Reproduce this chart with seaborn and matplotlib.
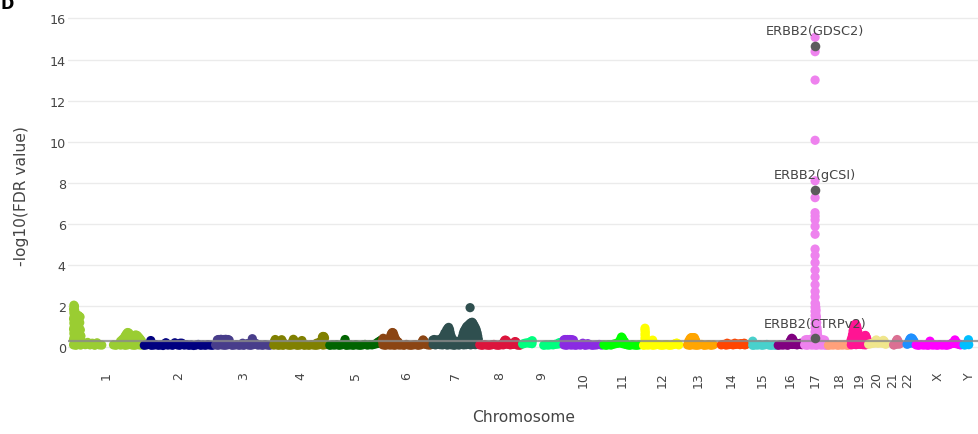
import numpy as np
import pandas as pd
import matplotlib
matplotlib.use("Agg")
import matplotlib.pyplot as plt
import seaborn as sns

# ---------------------------------------------------------------- data
CHROMS = ["1", "2", "3", "4", "5", "6", "7", "8", "9", "10", "11", "12",
          "13", "14", "15", "16", "17", "18", "19", "20", "21", "22", "X", "Y"]
CHROM_LEN_MB = [249, 243, 198, 191, 181, 171, 159, 146, 141, 136, 135, 134,
                115, 107, 103, 90, 81, 78, 59, 63, 48, 51, 155, 59]
CHROM_COLORS = ["#9ACD32", "#000080", "#483D8B", "#808000", "#006400", "#8B4513",
                "#2F4F4F", "#DC143C", "#00FF7F", "#8A2BE2", "#00FF00", "#FFFF00",
                "#FFA500", "#FF4500", "#48D1CC", "#800080", "#EE82EE", "#FFA07A",
                "#FF1493", "#F0E68C", "#DB7093", "#1E90FF", "#FF00FF", "#00BFFF"]

# background scores: one gene-level score per 8 Mb bin (None = no genes)
BIN_MB = 8
chr1_base = [None, .12, .10, .14, .11, .22, .13, .24, .12, .20, .10, .22, .12, .11, None, None,
             None, None, .12, .10, .14, .11, .13, .10, .12, .14, .11, .10, .13, .12, .11]
chr2_base = [.10, .12, .14, .10, .11, .13, .10, .12, .09, .20, .11, .13, .10, .22, .12,
             .10, .20, .11, .13, .10, .12, .09, .11, .14, .10, .12, .10, .13, .11, .10]
chr3_base = [.12, .10, .13, .11, .10, .12, .14, .10, .11, .13, .10, .12,
             .10, .14, .11, .10, .13, .20, .11, .12, .10, .13, .11, .10]
chr4_base = [.11, .13, .10, .12, .10, .14, .11, .10, .12, .13, .10, .11,
             .14, .10, .12, .10, .13, .11, .10, .12, .14, .11, .13]
chr5_base = [.10, .12, .11, .13, .10, .12, .14, .10, .11, .12, .10,
             .13, .11, .10, .12, .14, .11, .13, .12, .15, .18, .20]
chr6_base = [.12, .10, .13, .11, .12, .10, .13, .11, .12, .10, .14,
             .11, .10, .12, .13, .10, .12, .18, .15, .12, .11]
chr7_base = [.14, .12, .15, .13, .12, .14, .11, .13, .12, .10,
             .13, .11, .14, .12, .13, .15, .12, .14, .13]
chr8_base = [.12, .10, .13, .11, .10, .12, .14, .11, .10,
             .13, .12, .16, .15, .12, .14, .16, .11, .10]
chr9_base = [.16, .20, .22, .20, .18, None, None, None, None,
             .10, .12, .11, .13, .12, .15, .16, .18]
chr10_base = [.12, .10, .13, .11, .12, .10, .13, .11, .20,
              .10, .12, .13, .10, .11, .12, .14, .11]
chr11_base = [.12, .10, .13, .11, .15, .18, .20, .22, .18, .15, .12, .10, .13, .11, .10, .12]
chr12_base = [.10, .12, .11, .13, .10, .12, .14, .11, .10, .12, .13, .10, .11, .14, .20, .12]
chr13_base = [None, None, .12, .10, .13, .11, .10, .12, .14, .10, .11, .13, .10, .12]
chr14_base = [None, None, .12, .14, .11, .13, .15, .12, .14, .16, .13, .15, .12]
chr15_base = [None, None, .10, .12, .11, .13, .10, .12, .14, .11, .10, .12]
chr16_base = [.10, .12, .11, .13, .10, .15, .14, .14, .12, .15, .13]
chr17_base = [.12, .10, .13, .11, .12, .10, .13, .11, .12, .10]
chr18_base = [.10, .12, .11, .13, .10, .12, .11, .13, .10]
chr19_base = [.12, .14, .13, .15, .14, .13, .12]
chr20_base = [.15, .18, .20, .22, .20, .22, .20]
chr21_base = [None, None, None, .12, .15, .18]
chr22_base = [None, None, None, .18, .22, .20]
chrX_base = [.12, .10, .13, .11, .12, .10, .13, .11, .12, .10,
             .13, .11, .12, .10, .13, .18, .20, .18, .15]
chrY_base = [None, .12, .14, .13, None, None, None]

# genes with elevated scores: (position in Mb, -log10 FDR)
chr1_peaks = [(13, 2.05), (15, 2.0), (14, 1.92), (12, 1.85), (16, 1.78), (13, 1.68), (15, 1.58),
              (14, 1.48), (12, 1.38), (16, 1.28), (13, 1.18), (15, 1.08), (14, 0.98), (12, 0.88),
              (16, 0.78), (13, 0.68), (15, 0.58), (14, 0.48), (12, 0.38), (16, 0.28), (14, 0.18),
              (19, 1.62), (21, 1.45), (20, 1.15), (22, 0.85), (19, 0.55), (21, 0.3),
              (25, 1.52), (28, 1.55), (31, 1.5), (34, 1.48), (26, 1.3), (30, 1.25), (33, 1.2),
              (27, 1.05), (31, 0.95), (35, 0.85), (29, 0.75), (33, 0.65), (37, 0.55), (27, 0.5),
              (31, 0.4), (35, 0.35), (39, 0.3), (29, 0.25),
              (172, .30), (178, .38), (184, .46), (188, .56), (192, .65), (196, .72), (200, .70),
              (204, .62), (208, .54), (212, .52), (216, .55), (220, .58), (224, .60), (228, .58),
              (232, .52), (236, .45), (240, .38), (244, .30), (190, .35), (200, .42), (206, .32),
              (216, .34), (224, .38), (232, .30), (184, .24), (212, .28), (240, .20)]
chr2_peaks = [(26, .33), (24, .20), (78, .22), (126, .20)]
chr3_peaks = [(10, .36), (14, .38), (18, .37), (22, .39), (26, .36), (30, .38), (34, .37),
              (38, .39), (42, .36), (46, .38), (50, .35), (12, .24), (20, .26), (28, .22),
              (36, .25), (44, .24), (129, .42), (126, .22), (96, .20), (112, .18)]
chr4_peaks = [(9, .38), (6, .28), (12, .30), (31, .37), (28, .26), (34, .28), (71, .39),
              (68, .28), (75, .30), (100, .33), (97, .24), (150, .20), (160, .25), (166, .32),
              (170, .50), (172, .53), (175, .52), (177, .45), (171, .38), (174, .30), (176, .22)]
chr5_peaks = [(56, .38), (53, .24), (59, .22), (168, .25), (174, .30), (178, .34), (180, .30)]
chr6_peaks = [(2, .32), (5, .44), (8, .40), (11, .30), (26, .40), (30, .55), (33, .66), (36, .72),
              (39, .70), (42, .58), (45, .45), (48, .38), (52, .30), (56, .26), (32, .38),
              (38, .45), (44, .30), (138, .28), (141, .36), (144, .30)]
chr7_peaks = [(3, .35), (8, .38), (13, .32), (18, .36), (23, .34), (28, .38), (34, .45), (39, .55),
              (44, .70), (50, .84), (54, .92), (57, .97), (60, .86), (62, .72), (65, .56), (68, .44),
              (71, .34), (40, .35), (46, .48), (52, .60), (56, .70), (60, .55), (64, .38), (50, .40),
              (56, .30), (76, .25), (82, .30), (88, .22), (93, .28), (98, .30), (101, .38),
              (104, .52), (107, .68), (110, .80), (114, .90), (118, 1.0), (122, 1.05), (126, 1.1),
              (130, 1.16), (134, 1.2), (137, 1.22), (140, 1.16), (144, 1.06), (148, .95),
              (151, .85), (154, .70), (156, .55), (158, .40), (108, .45), (114, .60), (120, .75),
              (126, .85), (132, .90), (138, .95), (144, .80), (150, .60), (112, .35), (120, .50),
              (128, .60), (136, .65), (144, .50), (152, .40), (124, .35), (134, .40), (130, 1.93)]
chr8_peaks = [(84, .22), (88, .30), (90, .35), (93, .34), (96, .28), (100, .22),
              (121, .22), (124, .28), (127, .26)]
chr9_peaks = [(30, .26), (34, .30), (37, .32), (128, .22), (134, .24)]
chr10_peaks = [(4, .36), (8, .38), (12, .37), (16, .38), (20, .36), (24, .38), (28, .37),
               (32, .36), (36, .35), (6, .22), (14, .25), (22, .20), (30, .22), (85, .18)]
chr11_peaks = [(54, .25), (58, .30), (61, .40), (64, .50), (67, .44), (70, .34), (74, .28),
               (62, .26), (66, .30)]
chr12_peaks = [(9, .93), (9, .83), (10, .73), (9, .63), (10, .53), (9, .43), (10, .33), (9, .23),
               (35, .35), (33, .24), (112, .18), (118, .20)]
chr13_peaks = [(24, .30), (28, .40), (31, .46), (34, .47), (37, .47), (40, .46), (43, .47),
               (46, .38), (49, .28), (33, .30), (38, .28), (43, .30)]
chr14_peaks = [(40, .20), (66, .20), (86, .18), (98, .20), (104, .14)]
chr15_peaks = [(20, .30), (24, .12), (98, .10)]
chr16_peaks = [(44, .28), (47, .36), (50, .44), (53, .40), (56, .30), (60, .22), (70, .18),
               (80, .20), (86, .14)]
chr17_peaks = [(6, .36), (12, .38), (18, .37), (24, .39), (30, .38), (36, .36), (42, .38),
               (48, .37), (54, .39), (60, .36), (66, .37), (72, .35), (9, .24), (21, .26),
               (33, .24), (45, .26), (57, .24), (69, .22),
               (41, 2.1), (42, 1.95), (43, 1.8), (42, 1.65), (44, 1.5), (43, 1.35), (45, 1.2),
               (44, 1.05), (46, .95), (45, .85), (47, .78), (46, .68), (48, .60), (47, .52),
               (49, .48), (41, 1.45), (41, .95), (42, .75), (43, .58), (50, .42),
               (39.5, 15.08), (39.5, 14.38), (39.5, 13.0), (39.5, 10.07), (39.5, 8.1),
               (39.5, 7.28), (39.4, 6.55), (39.6, 6.38), (39.5, 6.2), (39.5, 5.88), (39.5, 5.5),
               (39.5, 4.78), (39.5, 4.47), (39.5, 4.12), (39.5, 3.75), (39.5, 3.42),
               (39.5, 3.05), (39.5, 2.72), (39.5, 2.45), (39.5, 2.15), (39.5, 1.95),
               (39.4, 1.75), (39.6, 1.55), (39.5, 1.35), (39.5, 1.15), (39.5, .95),
               (39.5, .75), (39.5, .58)]
chr18_peaks = [(74, .12)]
chr19_peaks = [(3, .35), (6, .48), (8, .62), (10, .80), (12, .95), (14, 1.05), (16, 1.1),
               (18, 1.12), (20, 1.1), (22, 1.02), (24, .90), (26, .75), (28, .60), (30, .50),
               (14, .70), (18, .80), (22, .70), (12, .50), (16, .45), (20, .40), (24, .50),
               (26, .35), (33, .45), (36, .42), (39, .38), (42, .40), (45, .44), (48, .52),
               (50, .56), (52, .58), (54, .52), (56, .45), (58, .35), (34, .25), (44, .25),
               (50, .30), (55, .25)]
chr20_peaks = [(27, .30), (30, .36), (33, .30), (51, .28), (54, .34), (57, .30), (60, .20), (62, .15)]
chr21_peaks = [(26, .12), (35, .30), (38, .38), (41, .30), (46, .16)]
chr22_peaks = [(24, .15), (30, .28), (33, .38), (36, .44), (39, .45), (42, .42), (45, .35),
               (48, .28), (50, .20), (36, .28), (42, .26)]
chrX_peaks = [(48, .20), (51, .30), (54, .20), (128, .22), (133, .26), (136, .36), (139, .28),
              (152, .15), (155, .12)]
chrY_peaks = [(16, .12), (24, .22), (27, .37)]

BASES = [chr1_base, chr2_base, chr3_base, chr4_base, chr5_base, chr6_base, chr7_base,
         chr8_base, chr9_base, chr10_base, chr11_base, chr12_base, chr13_base, chr14_base,
         chr15_base, chr16_base, chr17_base, chr18_base, chr19_base, chr20_base,
         chr21_base, chr22_base, chrX_base, chrY_base]
PEAKS = [chr1_peaks, chr2_peaks, chr3_peaks, chr4_peaks, chr5_peaks, chr6_peaks, chr7_peaks,
         chr8_peaks, chr9_peaks, chr10_peaks, chr11_peaks, chr12_peaks, chr13_peaks,
         chr14_peaks, chr15_peaks, chr16_peaks, chr17_peaks, chr18_peaks, chr19_peaks,
         chr20_peaks, chr21_peaks, chr22_peaks, chrX_peaks, chrY_peaks]

# labelled hits: ERBB2 in each drug-response dataset
HIT_CHROM = "17"
HIT_POS_MB = 39.5
HIT_LABELS = ["ERBB2(GDSC2)", "ERBB2(gCSI)", "ERBB2(CTRPv2)"]
HIT_SCORES = [14.65, 7.67, 0.44]

FDR_CUTOFF = 0.5

# ---------------------------------------------------------------- table
offsets = np.concatenate([[0], np.cumsum(CHROM_LEN_MB)[:-1]])
rows = []
for name, off, base, peaks in zip(CHROMS, offsets, BASES, PEAKS):
    for i, v in enumerate(base):
        if v is not None:
            rows.append((name, off + BIN_MB * i + BIN_MB / 2, v))
    for p, v in peaks:
        rows.append((name, off + p, v))
df = pd.DataFrame(rows, columns=["chrom", "gpos", "score"])
mids = offsets + np.array(CHROM_LEN_MB) / 2

hit_off = offsets[CHROMS.index(HIT_CHROM)]
hits = pd.DataFrame({"gpos": [hit_off + HIT_POS_MB] * len(HIT_SCORES),
                     "score": HIT_SCORES, "label": HIT_LABELS})

# ---------------------------------------------------------------- plot
sns.set_theme(style="white")
plt.rcParams["font.family"] = ["DejaVu Sans"]
TEXT = "#444444"

fig = plt.figure(figsize=(9.79, 4.35), dpi=100)
ax = fig.add_axes([68 / 979, 66.1 / 435, 911 / 979, 359.8 / 435])

sns.scatterplot(data=df, x="gpos", y="score", hue="chrom", hue_order=CHROMS,
                palette=CHROM_COLORS, s=44, linewidth=0, legend=False, ax=ax, zorder=2)
ax.axhline(-np.log10(FDR_CUTOFF), color="#8a8a8a", lw=1.6, alpha=0.8, zorder=3)
sns.scatterplot(data=hits, x="gpos", y="score", color="#5c5c5c", s=48,
                linewidth=0, legend=False, ax=ax, zorder=4)
for _, r in hits.iterrows():
    ax.annotate(r["label"], (r["gpos"], r["score"]), xytext=(0, 11),
                textcoords="offset points", ha="center", va="center",
                fontsize=9.3, color=TEXT, zorder=5)

ax.set_xlim(-7, 3097)
ax.set_ylim(-1.0, 16.5)
ax.set_yticks(np.arange(0, 17, 2))
ax.set_xticks(mids)
ax.set_xticklabels(CHROMS, rotation=90)
ax.tick_params(axis="x", length=0, pad=2.5, labelsize=9, labelcolor=TEXT)
ax.tick_params(axis="y", length=0, pad=1.5, labelsize=9.2, labelcolor=TEXT)
ax.grid(axis="y", color="#ebebeb", lw=1)
ax.grid(axis="x", visible=False)
ax.set_axisbelow(True)
for s in ax.spines.values():
    s.set_visible(False)

ax.set_xlabel("Chromosome", fontsize=11.2, color=TEXT)
ax.xaxis.label.set_va("center")
ax.xaxis.set_label_coords(0.5, -0.1337)
ax.set_ylabel("-log10(FDR value)", fontsize=11.2, color=TEXT)
ax.yaxis.label.set_va("center")
ax.yaxis.set_label_coords(-0.0505, 0.479)

fig.text(0.0, 1 - 9 / 435, "D", fontsize=11.5, fontweight="bold", color="black",
         ha="left", va="baseline")

fig.savefig("out.png", dpi=100)
